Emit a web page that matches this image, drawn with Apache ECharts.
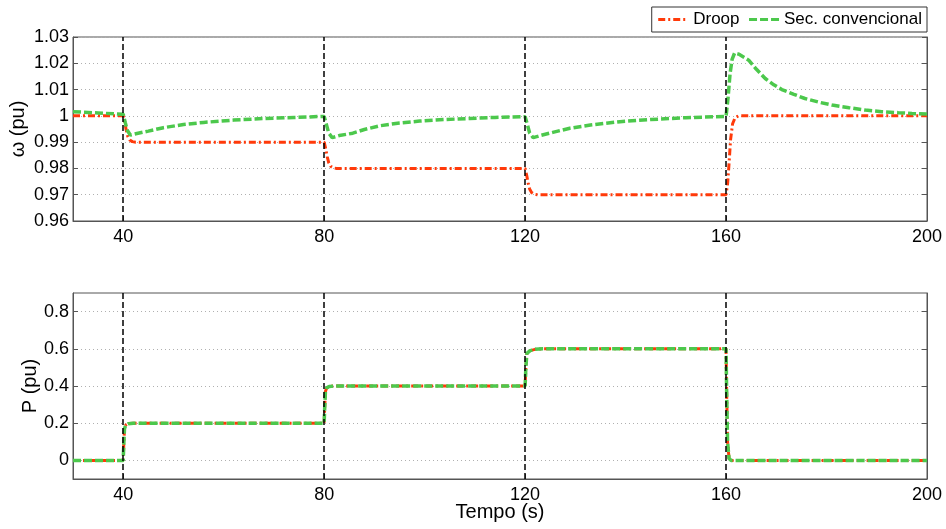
<!DOCTYPE html>
<html>
<head>
<meta charset="utf-8">
<script src="https://cdn.jsdelivr.net/npm/echarts@6/dist/echarts.min.js"></script>
<style>
  html, body { margin: 0; padding: 0; background: #fff; }
  #chart { width: 946px; height: 529px; }
</style>
</head>
<body>
<div id="chart"></div>
<script>
// frequency, droop control
const tOmegaDroop = [30, 40, 40.3, 40.6, 40.9, 41.3, 41.8, 42.5,
  80, 80.3, 80.6, 80.9, 81.3, 81.8, 82.5,
  120, 120.3, 120.6, 120.9, 121.3, 121.8, 122.5,
  160, 160.3, 160.6, 160.9, 161.3, 161.8, 162.5, 200]
const omegaDroop = [1, 1, 0.9975, 0.9945, 0.9922, 0.9908, 0.9902, 0.99,
  0.99, 0.9875, 0.9845, 0.9822, 0.9808, 0.9802, 0.98,
  0.98, 0.9775, 0.9745, 0.9722, 0.9708, 0.9702, 0.97,
  0.97, 0.974, 0.982, 0.991, 0.997, 0.9993, 1, 1]

// frequency, conventional secondary control
const tOmegaSec = [30, 35, 40, 40.4, 40.8, 41.4, 42.5, 45, 48, 52, 56, 62, 68, 74, 80,
  80.4, 80.9, 81.6, 83, 85.7, 88, 91, 95, 99, 104, 109, 114, 120,
  120.4, 120.9, 121.6, 123, 125.5, 128.9, 133, 138.9, 145, 152, 160,
  160.4, 160.8, 161.2, 161.7, 162.5, 164.5, 166, 167.8, 169.5, 171.1, 173.5, 175.7,
  178.5, 181.1, 184.5, 187.7, 191, 194.3, 197, 200]
const omegaSec = [1.0016, 1.0011, 1.0006, 0.9975, 0.9945, 0.9927, 0.9932, 0.9942, 0.9955, 0.9967, 0.9975, 0.9984, 0.999, 0.9994, 0.9998,
  0.997, 0.9935, 0.9917, 0.9925, 0.9934, 0.9948, 0.9962, 0.9973, 0.998, 0.9986, 0.999, 0.9994, 0.9997,
  0.997, 0.9935, 0.9917, 0.9925, 0.9937, 0.9953, 0.9965, 0.9978, 0.9986, 0.9993, 0.9998,
  1.007, 1.0161, 1.0215, 1.0239, 1.0235, 1.0212, 1.0178, 1.0142, 1.0118, 1.01, 1.0082, 1.0066,
  1.0052, 1.0041, 1.0031, 1.0022, 1.0016, 1.0012, 1.0009, 1.0007]

// active power
const tPower = [30, 40, 40.1, 40.25, 40.5, 41, 42,
  80, 80.1, 80.25, 80.5, 81, 82,
  120, 120.15, 120.35, 121, 122, 123.5,
  160, 160.1, 160.3, 160.6, 161, 200]
const pDroop = [0, 0, 0.08, 0.17, 0.19, 0.197, 0.2,
  0.2, 0.28, 0.37, 0.39, 0.397, 0.4,
  0.4, 0.5, 0.575, 0.59, 0.597, 0.6,
  0.6, 0.4, 0.1, 0.01, 0, 0]
const pSec = [0, 0, 0.08, 0.17, 0.19, 0.197, 0.2,
  0.2, 0.28, 0.37, 0.39, 0.397, 0.4,
  0.4, 0.5, 0.575, 0.59, 0.597, 0.6,
  0.6, 0.4, 0.1, 0.01, 0, 0]

const events = [40, 80, 120, 160]
const xTicks = [40, 80, 120, 160, 200]
const pTicks = [0, 0.2, 0.4, 0.6, 0.8]

const RED = '#ff3a0a'
const GREEN = '#4cc84c'
const FONT = 'Liberation Sans, Arial, sans-serif'

const zip = (xs, ys) => xs.map((x, i) => [x, ys[i]])

const gridLine = { show: true, lineStyle: { color: '#b0b0b0', type: [1, 3], width: 1 } }
const labelStyle = { color: '#000', fontSize: 18, fontFamily: FONT }

const xAxisFor = (gridIndex, name) => ({
  type: 'value', gridIndex, min: 30, max: 200,
  name, nameLocation: 'middle', nameGap: 23, nameMoveOverlap: false,
  nameTextStyle: { color: '#000', fontSize: 20, fontFamily: FONT },
  axisLine: { show: true, onZero: false, lineStyle: { color: '#555' } },
  axisTick: { show: true, inside: true, length: 5, customValues: xTicks, lineStyle: { color: '#555' } },
  axisLabel: { ...labelStyle, margin: 7, customValues: xTicks },
  splitLine: { show: false }
})

const vLines = {
  silent: true, symbol: 'none', label: { show: false },
  lineStyle: { color: '#000', type: [6, 3], width: 1.5 },
  data: events.map(x => ({ xAxis: x }))
}

const chart = echarts.init(document.getElementById('chart'))
chart.setOption({
  backgroundColor: '#fff',
  animation: false,
  legend: {
    data: ['Droop', 'Sec. convencional'],
    right: 19, top: 7,
    itemWidth: 30, itemHeight: 10, itemGap: 8,
    padding: [4, 5, 4, 5],
    borderColor: '#333', borderWidth: 1,
    itemStyle: { opacity: 0 },
    lineStyle: { width: 3 },
    textStyle: { color: '#000', fontSize: 17, fontFamily: FONT }
  },
  grid: [
    { left: 73, right: 19, top: 37, height: 184, show: true, borderColor: '#555', borderWidth: 1, outerBoundsMode: 'none' },
    { left: 73, right: 19, top: 293, height: 186, show: true, borderColor: '#555', borderWidth: 1, outerBoundsMode: 'none' }
  ],
  xAxis: [
    xAxisFor(0, ''),
    xAxisFor(1, 'Tempo (s)')
  ],
  yAxis: [
    {
      type: 'value', gridIndex: 0, min: 0.96, max: 1.03, interval: 0.01,
      name: 'ω (pu)', nameLocation: 'middle', nameGap: 45, nameMoveOverlap: false,
      nameTextStyle: { color: '#000', fontSize: 20, fontFamily: FONT },
      axisLine: { show: true, lineStyle: { color: '#555' } },
      axisTick: { show: true, inside: true, length: 5, lineStyle: { color: '#555' } },
      axisLabel: { ...labelStyle, margin: 4 },
      splitLine: gridLine
    },
    {
      type: 'value', gridIndex: 1, min: -0.1, max: 0.9,
      name: 'P (pu)', nameLocation: 'middle', nameGap: 33, nameMoveOverlap: false,
      nameTextStyle: { color: '#000', fontSize: 20, fontFamily: FONT },
      axisLine: { show: true, lineStyle: { color: '#555' } },
      axisTick: { show: true, inside: true, length: 5, customValues: pTicks, lineStyle: { color: '#555' } },
      axisLabel: { ...labelStyle, margin: 4, customValues: pTicks },
      splitLine: gridLine
    },
    {
      type: 'value', gridIndex: 0, position: 'right', min: 0.96, max: 1.03, interval: 0.01,
      axisLine: { show: true, lineStyle: { color: '#555' } },
      axisTick: { show: true, inside: true, length: 5, lineStyle: { color: '#555' } },
      axisLabel: { show: false }, splitLine: { show: false }
    },
    {
      type: 'value', gridIndex: 1, position: 'right', min: -0.1, max: 0.9,
      axisLine: { show: true, lineStyle: { color: '#555' } },
      axisTick: { show: true, inside: true, length: 5, customValues: pTicks, lineStyle: { color: '#555' } },
      axisLabel: { show: false }, splitLine: { show: false }
    }
  ],
  series: [
    {
      name: 'Droop', type: 'line', xAxisIndex: 0, yAxisIndex: 0,
      data: zip(tOmegaDroop, omegaDroop), symbol: 'none', z: 2,
      lineStyle: { color: RED, width: 3, type: [7, 3, 2, 3] }, itemStyle: { color: RED }
    },
    {
      name: 'Sec. convencional', type: 'line', xAxisIndex: 0, yAxisIndex: 0,
      data: zip(tOmegaSec, omegaSec), symbol: 'none', z: 3,
      lineStyle: { color: GREEN, width: 3.5, type: [8, 3] }, itemStyle: { color: GREEN },
      markLine: vLines
    },
    {
      name: 'Droop', type: 'line', xAxisIndex: 1, yAxisIndex: 1,
      data: zip(tPower, pDroop), symbol: 'none', z: 2,
      lineStyle: { color: RED, width: 3, type: [7, 3, 2, 3] }, itemStyle: { color: RED }
    },
    {
      name: 'Sec. convencional', type: 'line', xAxisIndex: 1, yAxisIndex: 1,
      data: zip(tPower, pSec), symbol: 'none', z: 3,
      lineStyle: { color: GREEN, width: 3.5, type: [8, 3] }, itemStyle: { color: GREEN },
      markLine: vLines
    }
  ]
})
</script>
</body>
</html>
